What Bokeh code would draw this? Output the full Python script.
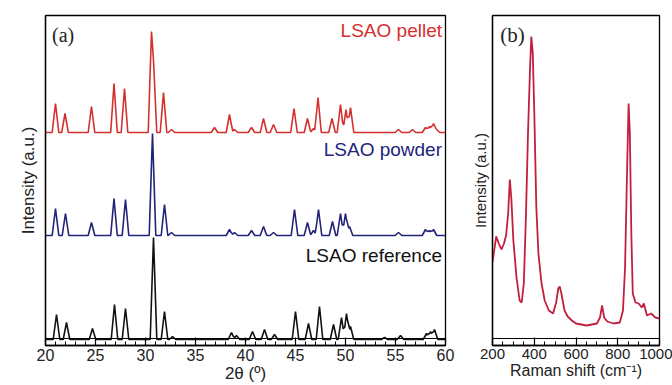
import numpy as np
from bokeh.plotting import figure
from bokeh.layouts import row
from bokeh.models import FixedTicker, Span, Label
from bokeh.embed import file_html
from bokeh.resources import INLINE

# ---------------- data ----------------
# XRD peaks: 2theta positions and heights (a.u.)
pellet_pos = [21.0, 21.95, 24.6, 26.85, 27.9, 30.6, 30.8, 31.8, 32.6, 36.9, 38.4, 38.9,
              40.6, 41.8, 42.8, 44.85, 46.2, 46.8, 47.25, 48.65, 49.5, 50.05, 50.5,
              55.3, 56.7, 58.0, 58.4, 58.8, 59.1]
pellet_h = [29, 19, 26, 49, 44, 101, 72, 40, 3, 5, 18, 3,
            5, 14, 8, 24, 14, 4, 35, 14, 28, 23, 25,
            3, 3, 5, 6, 9, 3]

powder_pos = [21.0, 22.0, 24.6, 26.85, 28.0, 30.7, 31.9, 32.6, 38.4, 38.9, 40.6, 41.8,
              42.8, 44.9, 46.2, 46.8, 47.3, 48.7, 49.5, 50.0, 50.4, 55.3, 58.0, 58.4, 58.8]
powder_h = [27, 22, 13, 37, 36, 102, 31, 3, 6, 3, 5, 9,
            3, 26, 13, 5, 26, 14, 22, 22, 9, 3, 6, 5, 6]

ref_pos = [21.1, 22.1, 24.7, 26.9, 28.0, 30.8, 31.9, 32.7, 38.6, 39.1, 40.7, 41.9,
           42.9, 45.0, 46.3, 47.4, 48.8, 49.6, 50.1, 50.5, 53.9, 55.5, 58.1, 58.5, 58.9]
ref_h = [25, 17, 11, 35, 31, 102, 28, 3, 7, 4, 8, 10,
         5, 28, 16, 33, 15, 22, 26, 13, 2, 4, 6, 8, 10]

# Raman spectrum: shift (cm-1) and intensity (a.u.)
raman_x = [200, 210, 218, 230, 243, 255, 265, 275, 283, 290, 300, 315, 330, 340, 350,
           360, 370, 380, 386, 393, 400, 410, 420, 435, 450, 470, 490, 505, 515, 522,
           530, 545, 560, 580, 600, 650, 700, 715, 725, 735, 750, 780, 810, 825, 835,
           845, 852, 858, 865, 872, 885, 900, 915, 925, 940, 960, 980, 1000]
raman_y = [83, 98, 109, 102, 96, 102, 110, 132, 166, 148, 105, 68, 45, 43, 62,
           128, 212, 278, 309, 292, 235, 138, 92, 62, 45, 35, 32, 43, 57, 59,
           52, 35, 29, 25, 22, 20, 22, 28, 40, 28, 24, 22, 23, 35, 78,
           178, 242, 212, 112, 52, 43, 42, 38, 42, 30, 32, 28, 27]

xrd_ticks = [20, 25, 30, 35, 40, 45, 50, 55, 60]
raman_ticks = [200, 400, 600, 800, 1000]

# ---------------- styling / layout constants ----------------
OFFSETS = {"pellet": 213, "powder": 110, "reference": 6}
HALF_BASE = 0.33
RED = "#d5302e"
NAVY = "#23237a"
BLACK = "#111111"
CRIMSON = "#c21f3e"
TXT = "#222222"
SANS = "Liberation Sans"
SERIF = "Liberation Serif"


def pattern(pos, h, offset):
    pos = np.asarray(pos, float)
    h = np.asarray(h, float)
    xs = np.concatenate([[20.0, 60.0], pos - HALF_BASE, pos, pos + HALF_BASE])
    xs = np.unique(np.clip(xs, 20, 60))
    ys = np.zeros_like(xs)
    for p, hh in zip(pos, h):
        ys = np.maximum(ys, hh * np.clip(1 - np.abs(xs - p) / HALF_BASE, 0, None))
    return xs, ys + offset


def style_common(p, ticks, minor):
    p.outline_line_color = "black"
    p.outline_line_width = 1.3
    p.xgrid.visible = False
    p.ygrid.visible = False
    p.background_fill_color = "white"
    p.border_fill_color = "white"
    xa = p.xaxis[0]
    xa.ticker = FixedTicker(ticks=ticks, minor_ticks=minor)
    xa.major_tick_in = 8
    xa.major_tick_out = 0
    xa.minor_tick_in = 4
    xa.minor_tick_out = 0
    xa.axis_line_width = 1.3
    xa.major_tick_line_width = 1.2
    xa.minor_tick_line_width = 1.0
    xa.major_label_standoff = 3
    xa.major_label_text_font = SANS
    xa.major_label_text_font_size = "16px"
    xa.major_label_text_color = TXT
    xa.axis_label_standoff = 0
    xa.axis_label_text_font = SANS
    xa.axis_label_text_font_style = "normal"
    xa.axis_label_text_color = TXT
    ya = p.yaxis[0]
    ya.ticker = FixedTicker(ticks=[])
    ya.major_tick_out = 0
    ya.major_tick_in = 0
    ya.major_label_standoff = 0
    ya.axis_line_width = 1.3
    ya.axis_label_text_font = SANS
    ya.axis_label_text_font_style = "normal"
    ya.axis_label_text_color = TXT
    p.add_layout(Span(location=7, dimension="width", line_color="black", line_width=1.2))


# ---------------- panel (a) ----------------
p1 = figure(width=468, height=385, x_range=(20, 60), y_range=(0, 330),
            output_backend="svg", toolbar_location=None,
            min_border_left=45, min_border_right=23, min_border_top=15, min_border_bottom=40)
style_common(p1, xrd_ticks, [v for v in range(21, 60) if v % 5 != 0])
p1.xaxis.axis_label = "2θ (º)"
p1.xaxis.axis_label_text_font_size = "17px"
p1.yaxis.axis_label = "Intensity (a.u.)"
p1.yaxis.axis_label_text_font_size = "17px"
p1.yaxis.axis_label_standoff = 8

for pos, h, key, col in [(ref_pos, ref_h, "reference", BLACK),
                         (powder_pos, powder_h, "powder", NAVY),
                         (pellet_pos, pellet_h, "pellet", RED)]:
    xs, ys = pattern(pos, h, OFFSETS[key])
    p1.line(xs, ys, line_color=col, line_width=1.6)

for txt, col, yy in [("LSAO pellet", RED, 315), ("LSAO powder", NAVY, 196),
                     ("LSAO reference", BLACK, 90)]:
    p1.add_layout(Label(x=59.65, y=yy, text=txt, text_align="right", text_baseline="middle",
                        text_font=SANS, text_font_size="19px", text_color=col))
p1.add_layout(Label(x=20.65, y=311, text="(a)", text_align="left", text_baseline="middle",
                    text_font=SERIF, text_font_size="20px", text_color=TXT))

# ---------------- panel (b) ----------------
p2 = figure(width=204, height=385, x_range=(200, 1000), y_range=(0, 330),
            output_backend="svg", toolbar_location=None,
            min_border_left=21, min_border_right=13, min_border_top=15, min_border_bottom=40)
style_common(p2, raman_ticks, [v for v in range(250, 1000, 50) if v % 200 != 0])
p2.xaxis.major_label_text_font_size = "15px"
p2.xaxis.axis_label = "Raman shift (cm⁻¹)"
p2.xaxis.axis_label_text_font_size = "16px"
p2.yaxis.axis_label = "Intensity (a.u.)"
p2.yaxis.axis_label_text_font_size = "15px"
p2.yaxis.axis_label_standoff = 4
p2.line(raman_x, raman_y, line_color=CRIMSON, line_width=1.8)
p2.add_layout(Label(x=237, y=311, text="(b)", text_align="left", text_baseline="middle",
                    text_font=SERIF, text_font_size="21px", text_color=TXT))

layout = row(p1, p2)
open("out.html", "w").write(file_html(layout, INLINE))
